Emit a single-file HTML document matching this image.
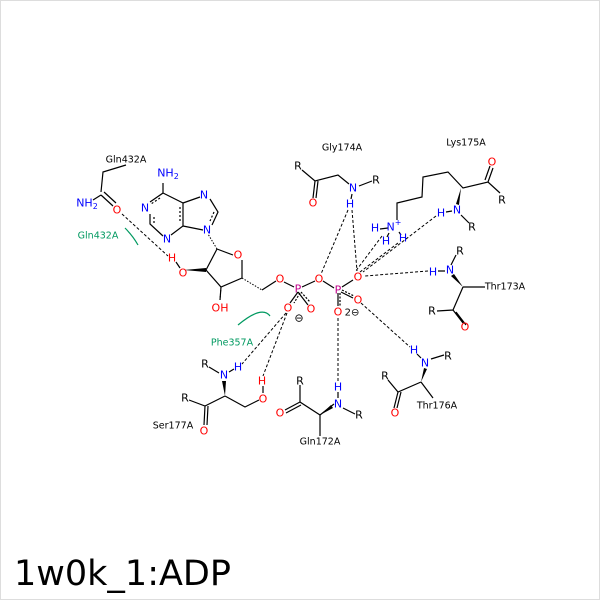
<!DOCTYPE html>
<html><head><meta charset="utf-8"><style>body{margin:0;background:#fff}svg{display:block}</style></head><body>
<svg width="600" height="600" viewBox="0 0 600 600" xmlns="http://www.w3.org/2000/svg" font-family="DejaVu Sans, Liberation Sans, sans-serif">
<rect x="0.5" y="0.5" width="599" height="599" fill="#fff" stroke="#ddd"/>
<g stroke="#000" stroke-width="1.2" fill="none">
<path d="M126 165 L103 172 L101 192"/><path d="M101 195 L113 206 M104 192 L116 203"/><path d="M101 195 L93 200"/>
<path d="M163 183 L163 193 L150 202 M163 193 L183 203 L183 226 L171 235 M150 214 L150 224 L163 236 M183 203 L200 197 M210 199 L218 212 L212 225 M183 226 L203 230"/>
<path d="M160 198 L151 204 M180 207 L180 223 M154 217 L154 223 M214 212 L210 221" stroke-dasharray="2,2"/>
<path d="M217 249 L233 255 M242 260 L242 278 L221 287 L206 270 L217 249 M221 287 L220 300 M262 290 L276 281 M284 282 L294 287 M302 287 L315 281 M323 281 L334 288 M342 287 L353 280"/>
<path d="M298 292 L290 303 M298 292 L308 305 M338 293 L338 306 M341 292 L353 298"/>
<path d="M300 293 L294 303 M301 292 L310 302 M340 293 L340 306 M342 290 L354 296" stroke-dasharray="2,1.5"/>
<path d="M302 170 L315 181 L338 175 L349 184 M359 186 L372 181 M315 181 L313 198 M318 181 L316 198 M352 194 L351 199"/>
<path d="M397 220 L397 203 L422 197 L423 177 L448 172 L463 188 L488 182 L500 193 M488 182 L493 168 M485 180 L490 166"/>
<path d="M461 215 L469 223 M446 212 L452 211 M380 229 L388 228 M389 233 L387 237 M399 232 L401 235"/>
<path d="M463 287 L485 287 M463 287 L453 310 L437 311 M453 310 L463 323 M456 312 L466 325 M451 265 L456 255 M438 271 L445 271"/>
<path d="M421 382 L398 392 L388 380 M398 392 L394 408 M401 392 L397 408 M431 359 L444 355 M421 382 L433 398 M417 354 L421 358"/>
<path d="M334 404 L320 415 L300 402 L300 385 M300 402 L285 410 M301 405 L286 413 M320 415 L320 436 M343 408 L355 414 M338 392 L338 398"/>
<path d="M209 367 L219 373 M225 396 L205 406 L189 400 M205 406 L204 425 M208 406 L207 425 M225 396 L245 407 L259 400 M229 372 L234 369 M263 386 L263 393 M176 262 L180 268"/>
</g>
<g fill="#000">
<polygon points="184,270 206,268 206,272"/>
<polygon points="461,188 456,204 459,205"/>
<polygon points="463,287 451,276 454,274"/>
<polygon points="421,382 424,368 427,369"/>
<polygon points="320,415 331,405 333,408"/>
<polygon points="225,396 222,381 226,381"/>
</g>
<g stroke="#000" stroke-width="1" fill="none" stroke-dasharray="1.5,1.5">
<path d="M217 249 L208 234 M221 287 L220 300 M242 278 L262 290"/>
</g>
<g stroke="#000" stroke-width="1" fill="none" stroke-dasharray="3,2">
<path d="M122 214 L168 256 M348 210 L321 274 M352 210 L357 271 M382 236 L355 272 M398 243 L360 272 M436 216 L363 272 M428 271 L365 276 M286 313 L242 364 M287 313 L263 376 M338 318 L338 382 M361 303 L410 347"/>
</g>
<g stroke="#009960" stroke-width="1.2" fill="none">
<path d="M125 228 Q133 236 138 245"/><path d="M238 325 Q262 305 270 316"/>
</g>
<g font-size="11" text-anchor="middle" dominant-baseline="central">
<g fill="#00f">
<text x="168" y="173">NH<tspan font-size="8" dy="3">2</tspan></text><text x="87" y="203">NH<tspan font-size="8" dy="3">2</tspan></text>
<text x="145" y="208">N</text><text x="167" y="239">N</text><text x="204" y="195">N</text><text x="207" y="230">N</text>
<text x="353" y="188">N</text><text x="350" y="204">H</text>
<text x="394" y="227">N<tspan font-size="8" dy="-5">+</tspan></text><text x="375" y="228">H</text><text x="386" y="241">H</text><text x="403" y="238">H</text>
<text x="457" y="210">N</text><text x="441" y="213">H</text>
<text x="450" y="270">N</text><text x="433" y="272">H</text>
<text x="425" y="363">N</text><text x="414" y="350">H</text>
<text x="338" y="404">N</text><text x="338" y="387">H</text>
<text x="224" y="375">N</text><text x="238" y="367">H</text>
</g>
<g fill="#f00">
<text x="117" y="210">O</text><text x="172" y="258">H</text><text x="183" y="273">O</text><text x="220" y="308">OH</text>
<text x="238" y="255">O</text><text x="280" y="279">O</text><text x="319" y="279">O</text><text x="358" y="277">O</text>
<text x="288" y="308">O</text><text x="311" y="309">O</text><text x="338" y="312">O</text><text x="358" y="300">O</text>
<text x="313" y="203">O</text><text x="492" y="162">O</text><text x="465" y="327">O</text><text x="395" y="413">O</text>
<text x="280" y="413">O</text><text x="204" y="431">O</text><text x="263" y="399">O</text><text x="262" y="381">H</text>
</g>
<g fill="#c0008a"><text x="298" y="289">P</text><text x="338" y="290">P</text></g>
<g fill="#000">
<text x="299" y="318">⊖</text><text x="352" y="313" font-size="10">2⊖</text>
<text x="298" y="166">R</text><text x="376" y="180">R</text><text x="502" y="200">R</text><text x="472" y="227">R</text>
<text x="460" y="251">R</text><text x="432" y="311">R</text><text x="448" y="356">R</text><text x="385" y="376">R</text>
<text x="300" y="381">R</text><text x="359" y="415">R</text><text x="205" y="364">R</text><text x="185" y="398">R</text>
</g>
<g font-size="9.5" fill="#000">
<text x="126" y="160">Gln432A</text><text x="342" y="148">Gly174A</text><text x="466" y="143">Lys175A</text>
<text x="505" y="287">Thr173A</text><text x="437" y="406">Thr176A</text><text x="320" y="442">Gln172A</text><text x="173" y="426">Ser177A</text>
<text x="98" y="236" fill="#009960">Gln432A</text><text x="232" y="343" fill="#009960">Phe357A</text>
</g>
</g>
<text x="14" y="585" font-size="35" font-family="DejaVu Sans, sans-serif" fill="#000">1w0k_1:ADP</text>
</svg>
</body></html>
